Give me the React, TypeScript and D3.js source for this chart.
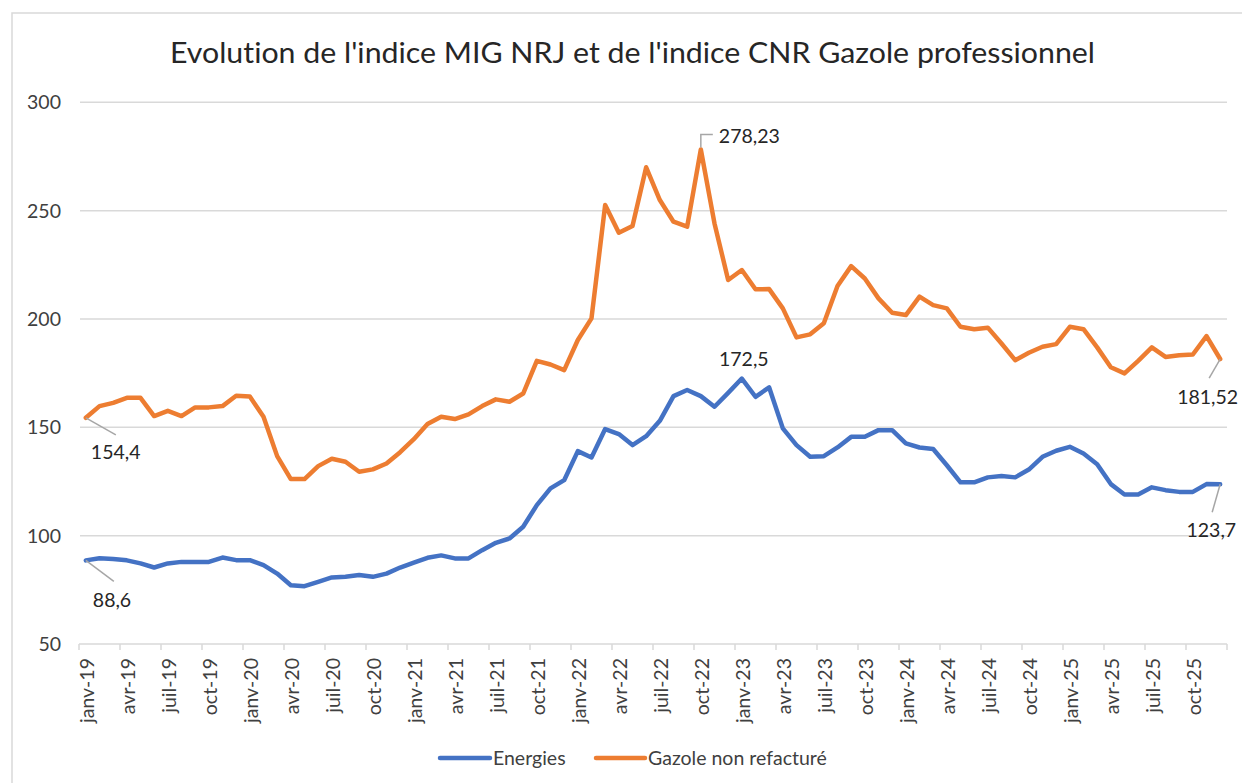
import React from "react";
import * as d3 from "d3";

const monthNames = ["janv", "févr", "mars", "avr", "mai", "juin", "juil", "août", "sept", "oct", "nov", "déc"];
const years = ["19", "20", "21", "22", "23", "24", "25"];
const categories: string[] = years.flatMap((y) => monthNames.map((m) => `${m}-${y}`));
const shownMonths = ["janv", "avr", "juil", "oct"];

const energies = [
  88.6, 89.6, 89.2, 88.6, 87.2, 85.3, 87.2, 87.9, 87.9, 87.9, 89.9, 88.7,
  88.7, 86.4, 82.5, 77.1, 76.7, 78.7, 80.7, 81.0, 81.8, 81.0, 82.5, 85.3,
  87.6, 89.8, 90.9, 89.5, 89.5, 93.3, 96.7, 98.7, 104.1, 114.1, 121.8, 125.6,
  139.0, 136.1, 149.2, 146.9, 141.8, 145.9, 153.0, 164.4, 167.2, 164.4, 159.5, 165.9,
  172.5, 164.1, 168.4, 149.5, 141.8, 136.4, 136.7, 140.7, 145.6, 145.6, 148.7, 148.7,
  142.6, 140.7, 140.0, 132.5, 124.6, 124.6, 126.9, 127.5, 126.9, 130.5, 136.4, 139.2,
  141.0, 137.9, 133.0, 123.8, 119.0, 119.0, 122.3, 121.0, 120.2, 120.2, 123.8, 123.7,
];

const gazole = [
  154.4, 159.8, 161.3, 163.6, 163.6, 155.2, 157.6, 155.2, 159.2, 159.2, 159.8, 164.6,
  164.2, 154.9, 136.7, 126.1, 126.1, 132.1, 135.5, 134.1, 129.5, 130.6, 133.3, 138.5,
  144.5, 151.5, 154.9, 153.8, 156.0, 159.8, 162.9, 161.8, 165.6, 180.7, 179.0, 176.4,
  190.3, 200.3, 252.6, 239.8, 242.9, 270.0, 254.9, 244.9, 242.6, 278.23, 244.1, 218.0,
  222.6, 213.7, 213.8, 204.9, 191.5, 192.9, 198.0, 215.2, 224.4, 218.7, 209.5, 202.9,
  201.8, 210.3, 206.4, 204.9, 196.4, 195.3, 196.0, 188.7, 181.0, 184.4, 187.2, 188.4,
  196.4, 195.3, 186.9, 177.7, 174.9, 180.7, 186.9, 182.5, 183.3, 183.6, 192.1, 181.52,
];

const yTicks = [50, 100, 150, 200, 250, 300];
const seriesNames = ["Energies", "Gazole non refacturé"];
const seriesColors = ["#4472C4", "#ED7D31"];
const title = "Evolution de l'indice MIG NRJ et de l'indice CNR Gazole professionnel";

const labelIdx = { firstE: 0, firstG: 0, peakE: 48, peakG: 45, lastE: 83, lastG: 83 };

const fmt = (v: number) => String(v).replace(".", ",");

export default function App() {
  const W = 1242;
  const H = 783;
  const x = d3.scaleBand<number>().domain(d3.range(categories.length)).range([79, 1227]).paddingInner(0).paddingOuter(0);
  const y = d3.scaleLinear().domain([50, 300]).range([644, 102.3]);
  const cx = (i: number) => (x(i) as number) + x.bandwidth() / 2;
  const line = d3
    .line<number>()
    .x((_, i) => cx(i))
    .y((d) => y(d));

  const font = "Lato, 'Open Sans', sans-serif";
  const txt = "#404040";
  const grid = "#d9d9d9";
  const leader = "#a6a6a6";
  const fs = 19.5;

  const tickBoundaries = d3.range(0, categories.length + 1, 3);

  return (
    <svg
      width={W}
      height={H}
      style={{ position: "absolute", left: 0, top: 0, background: "#fff", fontVariantLigatures: "none" }}
      fontFamily={font}
    >
      <rect x={0} y={0} width={W} height={H} fill="#fff" />
      <rect x={12} y={13} width={W + 20} height={H + 20} fill="none" stroke={grid} strokeWidth={1.5} />
      <text x={632.5} y={63} textAnchor="middle" fontSize={29} fill="#262626" textLength={925} lengthAdjust="spacingAndGlyphs">
        {title}
      </text>

      {yTicks.map((t) => (
        <g key={t}>
          {t !== 50 && <line x1={80} x2={1227} y1={y(t)} y2={y(t)} stroke={grid} strokeWidth={1.5} />}
          <text x={61} y={y(t)} dy="0.36em" textAnchor="end" fontSize={fs} fill={txt}>
            {t}
          </text>
        </g>
      ))}

      <line x1={79} x2={1227} y1={y(50)} y2={y(50)} stroke={grid} strokeWidth={1.5} />
      {tickBoundaries.map((b) => {
        const px = b < categories.length ? (x(b) as number) : 1227;
        return <line key={b} x1={px} x2={px} y1={y(50)} y2={y(50) + 6} stroke={grid} strokeWidth={1.5} />;
      })}
      {categories.map((c, i) =>
        shownMonths.includes(c.split("-")[0]) ? (
          <text
            key={c}
            transform={`translate(${cx(i) + 1.8},658) rotate(-90)`}
            textAnchor="end"
            dy="0.35em"
            fontSize={fs}
            fill={txt}
          >
            {c}
          </text>
        ) : null
      )}

      <path d={line(gazole) || ""} fill="none" stroke={seriesColors[1]} strokeWidth={4.5} strokeLinejoin="round" strokeLinecap="round" />
      <path d={line(energies) || ""} fill="none" stroke={seriesColors[0]} strokeWidth={4.5} strokeLinejoin="round" strokeLinecap="round" />

      {/* data labels */}
      <g fontSize={fs} fill="#262626">
        <line x1={cx(labelIdx.firstG)} y1={y(gazole[0])} x2={cx(labelIdx.firstG) + 30} y2={y(gazole[0]) + 17} stroke={leader} strokeWidth={1.5} />
        <text x={cx(labelIdx.firstG) + 5} y={y(gazole[0]) + 41}>{fmt(gazole[0])}</text>

        <line x1={cx(labelIdx.firstE)} y1={y(energies[0])} x2={cx(labelIdx.firstE) + 28} y2={y(energies[0]) + 21} stroke={leader} strokeWidth={1.5} />
        <text x={cx(labelIdx.firstE) + 7} y={y(energies[0]) + 47}>{fmt(energies[0])}</text>

        <polyline
          points={`${cx(labelIdx.peakG)},${y(gazole[labelIdx.peakG]) - 2} ${cx(labelIdx.peakG)},${y(gazole[labelIdx.peakG]) - 15} ${cx(labelIdx.peakG) + 12},${y(gazole[labelIdx.peakG]) - 15}`}
          fill="none"
          stroke={leader}
          strokeWidth={1.5}
        />
        <text x={cx(labelIdx.peakG) + 18} y={y(gazole[labelIdx.peakG]) - 6}>{fmt(gazole[labelIdx.peakG])}</text>

        <text x={cx(labelIdx.peakE) + 2} y={y(energies[labelIdx.peakE]) - 13} textAnchor="middle">
          {fmt(energies[labelIdx.peakE])}
        </text>

        <line x1={cx(labelIdx.lastG)} y1={y(gazole[83])} x2={cx(labelIdx.lastG) - 11} y2={y(gazole[83]) + 19} stroke={leader} strokeWidth={1.5} />
        <text x={cx(labelIdx.lastG) + 18} y={y(gazole[83]) + 45} textAnchor="end">{fmt(gazole[83])}</text>

        <line x1={cx(labelIdx.lastE)} y1={y(energies[83])} x2={cx(labelIdx.lastE) - 8} y2={y(energies[83]) + 28} stroke={leader} strokeWidth={1.5} />
        <text x={cx(labelIdx.lastE) + 16} y={y(energies[83]) + 53} textAnchor="end">{fmt(energies[83])}</text>
      </g>

      {/* legend */}
      <g fontSize={fs} fill={txt}>
        <line x1={440} x2={490} y1={758} y2={758} stroke={seriesColors[0]} strokeWidth={4.5} strokeLinecap="round" />
        <text x={493} y={765}>{seriesNames[0]}</text>
        <line x1={596} x2={645} y1={758} y2={758} stroke={seriesColors[1]} strokeWidth={4.5} strokeLinecap="round" />
        <text x={648} y={765}>{seriesNames[1]}</text>
      </g>
    </svg>
  );
}
